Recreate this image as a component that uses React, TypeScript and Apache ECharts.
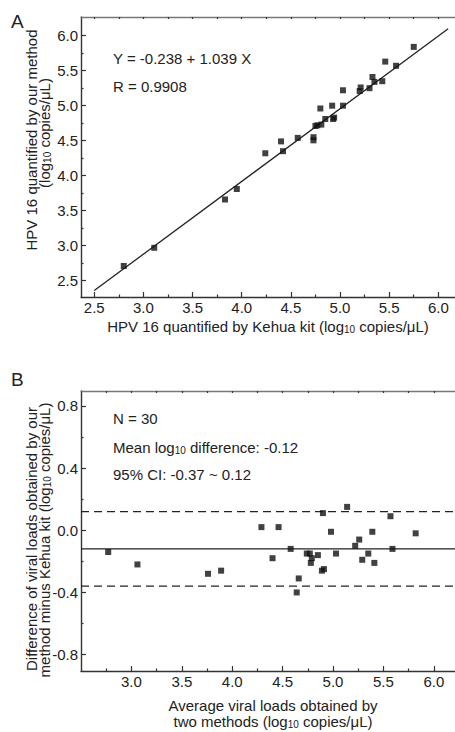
import React, { useEffect, useRef } from "react";
import * as echarts from "echarts";

// ---- Panel A data (Kehua kit vs our method, log10 copies/µL) ----
const kehuaX = [2.80, 3.11, 3.83, 3.95, 4.24, 4.40, 4.42, 4.57, 4.73, 4.73, 4.75, 4.77, 4.80, 4.81, 4.85, 4.92, 4.93, 4.94, 5.03, 5.03, 5.20, 5.21, 5.30, 5.33, 5.35, 5.43, 5.46, 5.57, 5.75];
const ourY = [2.71, 2.97, 3.66, 3.81, 4.32, 4.49, 4.35, 4.54, 4.55, 4.505, 4.71, 4.72, 4.96, 4.73, 4.81, 5.00, 4.81, 4.83, 5.22, 5.00, 5.21, 5.26, 5.25, 5.41, 5.34, 5.35, 5.63, 5.57, 5.84];
const fitIntercept = -0.238;
const fitSlope = 1.039;
const fitRange = [2.5, 6.1];

// ---- Panel B data (Bland-Altman) ----
const avgX = [2.77, 3.06, 3.76, 3.89, 4.29, 4.46, 4.40, 4.58, 4.66, 4.64, 4.74, 4.77, 4.78, 4.79, 4.85, 4.90, 4.89, 4.91, 4.98, 5.03, 5.14, 5.22, 5.26, 5.29, 5.35, 5.39, 5.41, 5.57, 5.59, 5.82];
const diffY = [-0.14, -0.22, -0.28, -0.26, 0.02, 0.02, -0.18, -0.12, -0.31, -0.40, -0.15, -0.15, -0.21, -0.18, -0.16, 0.11, -0.26, -0.25, -0.01, -0.15, 0.15, -0.10, -0.06, -0.19, -0.15, -0.01, -0.21, 0.09, -0.12, -0.02];
const meanDiff = -0.12;
const upperLimit = 0.12;
const lowerLimit = -0.36;

// ---- Tick values ----
const aXTicks = [2.5, 3.0, 3.5, 4.0, 4.5, 5.0, 5.5, 6.0];
const aXMinor = [2.75, 3.25, 3.75, 4.25, 4.75, 5.25, 5.75];
const aYTicks = [2.5, 3.0, 3.5, 4.0, 4.5, 5.0, 5.5, 6.0];
const aYMinor = [2.75, 3.25, 3.75, 4.25, 4.75, 5.25, 5.75];
const bXTicks = [3.0, 3.5, 4.0, 4.5, 5.0, 5.5, 6.0];
const bXMinor = [2.75, 3.25, 3.75, 4.25, 4.75, 5.25, 5.75];
const bXTop = [2.75, 3.0, 3.25, 3.5, 3.75, 4.0, 4.25, 4.5, 4.75, 5.0, 5.25, 5.5, 5.75, 6.0];
const aXTop = [2.5, 2.75, 3.0, 3.25, 3.5, 3.75, 4.0, 4.25, 4.5, 4.75, 5.0, 5.25, 5.5, 5.75, 6.0];
const bYTicks = [-0.8, -0.4, 0.0, 0.4, 0.8];
const bYMinor = [-0.6, -0.2, 0.2, 0.6];

const FONT = '"Liberation Sans", Arial, Helvetica, sans-serif';
const TXT = "#222";
const AXIS = "#333";

const A_X = [2.365, 6.19];
const A_Y = [2.267, 6.267];
const B_X = [2.5, 6.23];
const B_Y = [-0.905, 0.895];

const richBase = {
  a: { fontSize: 15, fontFamily: FONT, fill: TXT, lineHeight: 17 },
  s: { fontSize: 10, fontFamily: FONT, fill: TXT, lineHeight: 10, verticalAlign: "bottom" },
};

function txt(x: number, y: number, text: string, opts: any = {}) {
  return {
    type: "text",
    x,
    y,
    rotation: opts.rotation || 0,
    style: {
      text,
      rich: richBase,
      align: opts.align || "left",
      verticalAlign: "middle",
      fontFamily: FONT,
      fontSize: opts.fontSize || 15,
      fill: TXT,
    },
  };
}

function valueAxis(grid: number, pos: string, range: number[], o: any) {
  return {
    type: "value",
    gridIndex: grid,
    position: pos,
    min: range[0],
    max: range[1],
    splitLine: { show: false },
    axisLine: o.line
      ? { show: true, onZero: false, lineStyle: { color: o.lineColor || AXIS, width: 1.4 } }
      : { show: false, onZero: false },
    axisTick: {
      show: true,
      inside: true,
      length: o.tickLen,
      customValues: o.ticks,
      lineStyle: { color: AXIS, width: 1.2 },
    },
    axisLabel: o.labels
      ? {
          show: true,
          customValues: o.ticks,
          formatter: (v: number) => v.toFixed(1),
          fontFamily: FONT,
          fontSize: 15,
          color: TXT,
          margin: 3,
        }
      : { show: false },
  };
}

export default function App() {
  const ref = useRef<HTMLDivElement>(null);
  useEffect(() => {
    if (!ref.current) return;
    const chart = echarts.init(ref.current, null, { renderer: "svg" });
    const option: any = {
      animation: false,
      backgroundColor: "#fff",
      grid: [
        { left: 81, top: 17, width: 376, height: 280, outerBoundsMode: "none" },
        { left: 81, top: 391, width: 376, height: 280, outerBoundsMode: "none" },
      ],
      xAxis: [
        valueAxis(0, "bottom", A_X, { line: true, tickLen: 5, ticks: aXTicks, labels: true }),
        valueAxis(0, "bottom", A_X, { line: false, tickLen: 2.5, ticks: aXMinor }),
        valueAxis(0, "top", A_X, { line: true, lineColor: "#777", tickLen: 2, ticks: aXTop }),
        valueAxis(1, "bottom", B_X, { line: true, tickLen: 5, ticks: bXTicks, labels: true }),
        valueAxis(1, "bottom", B_X, { line: false, tickLen: 2.5, ticks: bXMinor }),
        valueAxis(1, "top", B_X, { line: true, lineColor: "#777", tickLen: 2, ticks: bXTop }),
      ],
      yAxis: [
        valueAxis(0, "left", A_Y, { line: true, tickLen: 5, ticks: aYTicks, labels: true }),
        valueAxis(0, "left", A_Y, { line: false, tickLen: 2.5, ticks: aYMinor }),
        valueAxis(1, "left", B_Y, { line: true, tickLen: 5, ticks: bYTicks, labels: true }),
        valueAxis(1, "left", B_Y, { line: false, tickLen: 2.5, ticks: bYMinor }),
      ],
      series: [
        {
          type: "line",
          xAxisIndex: 0,
          yAxisIndex: 0,
          symbol: "none",
          data: fitRange.map((x) => [x, fitIntercept + fitSlope * x]),
          lineStyle: { color: "#222", width: 1.3 },
          z: 2,
        },
        {
          type: "scatter",
          xAxisIndex: 0,
          yAxisIndex: 0,
          symbol: "rect",
          symbolSize: 6,
          itemStyle: { color: "#111" },
          data: kehuaX.map((x, i) => [x, ourY[i]]),
          z: 3,
        },
        {
          type: "line",
          xAxisIndex: 3,
          yAxisIndex: 2,
          symbol: "none",
          data: [[B_X[0], meanDiff], [B_X[1], meanDiff]],
          lineStyle: { color: "#222", width: 1.4 },
          z: 2,
        },
        {
          type: "line",
          xAxisIndex: 3,
          yAxisIndex: 2,
          symbol: "none",
          data: [[B_X[0], upperLimit], [B_X[1], upperLimit]],
          lineStyle: { color: "#222", width: 1.3, type: [8, 5] },
          z: 2,
        },
        {
          type: "line",
          xAxisIndex: 3,
          yAxisIndex: 2,
          symbol: "none",
          data: [[B_X[0], lowerLimit], [B_X[1], lowerLimit]],
          lineStyle: { color: "#222", width: 1.3, type: [8, 5] },
          z: 2,
        },
        {
          type: "scatter",
          xAxisIndex: 3,
          yAxisIndex: 2,
          symbol: "rect",
          symbolSize: 6,
          itemStyle: { color: "#111" },
          data: avgX.map((x, i) => [x, diffY[i]]),
          z: 3,
        },
      ],
      graphic: [
        txt(11, 21, "A", { fontSize: 19 }),
        txt(11, 379, "B", { fontSize: 19 }),
        txt(113, 58, "Y = -0.238 + 1.039 X"),
        txt(113, 86, "R = 0.9908"),
        txt(113, 418, "N = 30"),
        txt(113, 447, "{a|Mean log}{s|10}{a| difference: -0.12}"),
        txt(113, 474, "95% CI: -0.37 ~ 0.12"),
        txt(268, 326, "{a|HPV 16 quantified by Kehua kit (log}{s|10}{a| copies/μL)}", { align: "center" }),
        txt(31, 140, "HPV 16 quantified by our method", { align: "center", rotation: Math.PI / 2 }),
        txt(44, 133, "{a|(log}{s|10}{a| copies/μL)}", { align: "center", rotation: Math.PI / 2 }),
        txt(31, 539, "Difference of viral loads obtained by our", { align: "center", rotation: Math.PI / 2 }),
        txt(44, 540, "{a|method minus Kehua kit (log}{s|10}{a| copies/μL)}", { align: "center", rotation: Math.PI / 2 }),
        txt(273, 705, "Average viral loads obtained by", { align: "center" }),
        txt(273, 721, "{a|two methods (log}{s|10}{a| copies/μL)}", { align: "center" }),
      ],
    };
    chart.setOption(option);
    return () => chart.dispose();
  }, []);
  return (
    <div
      ref={ref}
      style={{ position: "fixed", left: 0, top: 0, width: 455, height: 732, background: "#fff" }}
    />
  );
}
